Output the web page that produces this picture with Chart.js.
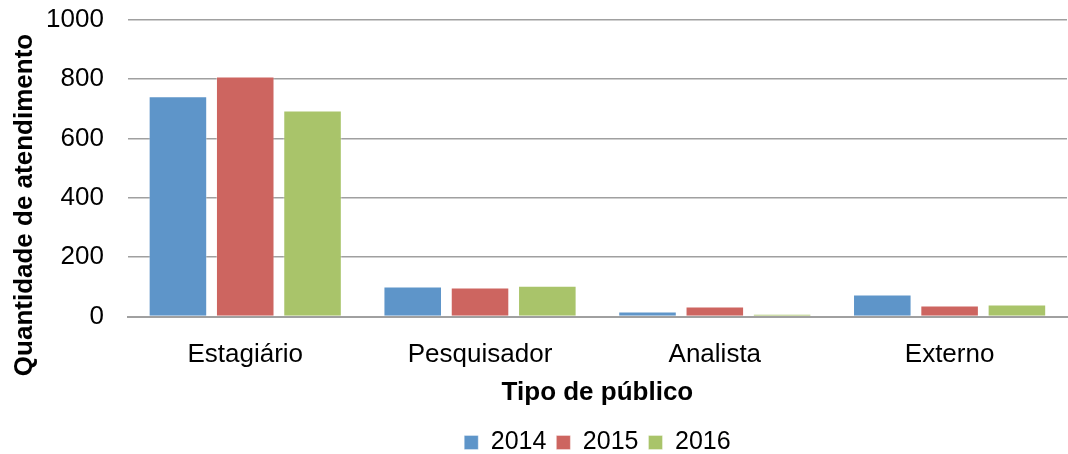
<!DOCTYPE html>
<html>
<head>
<meta charset="utf-8">
<script src="https://cdn.jsdelivr.net/npm/chart.js@4/dist/chart.umd.min.js"></script>
<style>
  html, body { margin: 0; padding: 0; background: #fff; }
  #wrap { width: 1068px; height: 454px; }
</style>
</head>
<body>
<div id="wrap"><canvas id="atendChart" width="1068" height="454"></canvas></div>
<script>
const categorias = ['Estagiário', 'Pesquisador', 'Analista', 'Externo'];
const anos = ['2014', '2015', '2016'];
const valores2014 = [742, 101, 17, 74];
const valores2015 = [808, 98, 34, 37];
const valores2016 = [694, 104, 10, 41];
const ticksY = [0, 200, 400, 600, 800, 1000];
const cores = ['#5E95C9', '#CD6560', '#A9C46A'];
const tituloY = 'Quantidade de atendimento';
const tituloX = 'Tipo de público';
const fonte = '"Liberation Sans", Arial, sans-serif';

// titulo do eixo Y centrado na altura toda + legenda centrada na area do grafico
const ajustesPlugin = {
    id: 'ajustes',
    beforeDraw(chart) {
        const lg = chart.legend;
        if (lg) {
            lg.left = chart.chartArea.left;
            lg.right = chart.chartArea.right;
            const h = lg.height;
            lg.top = chart.height - h + 11;
            lg.bottom = lg.top + h;
            lg.adjustHitBoxes();
        }
    },
    afterDraw(chart) {
        const c = chart.ctx;
        c.save();
        c.translate(25, 205);
        c.rotate(-Math.PI / 2);
        c.font = 'bold 26px ' + fonte;
        c.fillStyle = '#000';
        c.textAlign = 'center';
        c.textBaseline = 'middle';
        c.fillText(tituloY, 0, 0);
        c.restore();
    }
};

document.addEventListener('DOMContentLoaded', () => {
    const ctx = document.getElementById('atendChart');
    Chart.defaults.font.family = fonte;
    Chart.defaults.color = '#000';

    new Chart(ctx, {
        type: 'bar',
        data: {
            labels: categorias,
            datasets: [valores2014, valores2015, valores2016].map((v, i) => ({
                label: anos[i],
                data: v,
                backgroundColor: cores[i],
                borderColor: 'rgba(255,255,255,0.35)',
                borderWidth: 1,
                categoryPercentage: 0.86,
                barPercentage: 0.87
            }))
        },
        plugins: [ajustesPlugin],
        options: {
            responsive: false,
            animation: false,
            layout: { padding: { left: 42, right: 1, top: 8, bottom: 0 } },
            plugins: {
                legend: {
                    position: 'bottom',
                    labels: {
                        boxWidth: 14,
                        boxHeight: 14,
                        padding: 10,
                        font: { size: 25 }
                    }
                },
                tooltip: { enabled: false }
            },
            scales: {
                y: {
                    min: ticksY[0],
                    max: ticksY[ticksY.length - 1],
                    afterBuildTicks: axis => {
                        axis.ticks = ticksY.map(v => ({ value: v }));
                    },
                    ticks: {
                        font: { size: 26 },
                        padding: 4,
                        callback: value => String(value)
                    },
                    grid: {
                        color: '#A0A0A0',
                        lineWidth: 1.5,
                        drawTicks: true,
                        tickLength: 20,
                        tickColor: 'rgba(0,0,0,0)'
                    },
                    border: { display: false }
                },
                x: {
                    ticks: {
                        font: { size: 26 },
                        padding: 15,
                        autoSkip: false,
                        maxRotation: 0
                    },
                    grid: { display: false },
                    border: { color: '#A0A0A0', width: 2 },
                    title: {
                        display: true,
                        text: tituloX,
                        font: { size: 26, weight: 'bold' },
                        padding: { top: -9, bottom: 1 }
                    }
                }
            }
        }
    });
});
</script>
</body>
</html>
